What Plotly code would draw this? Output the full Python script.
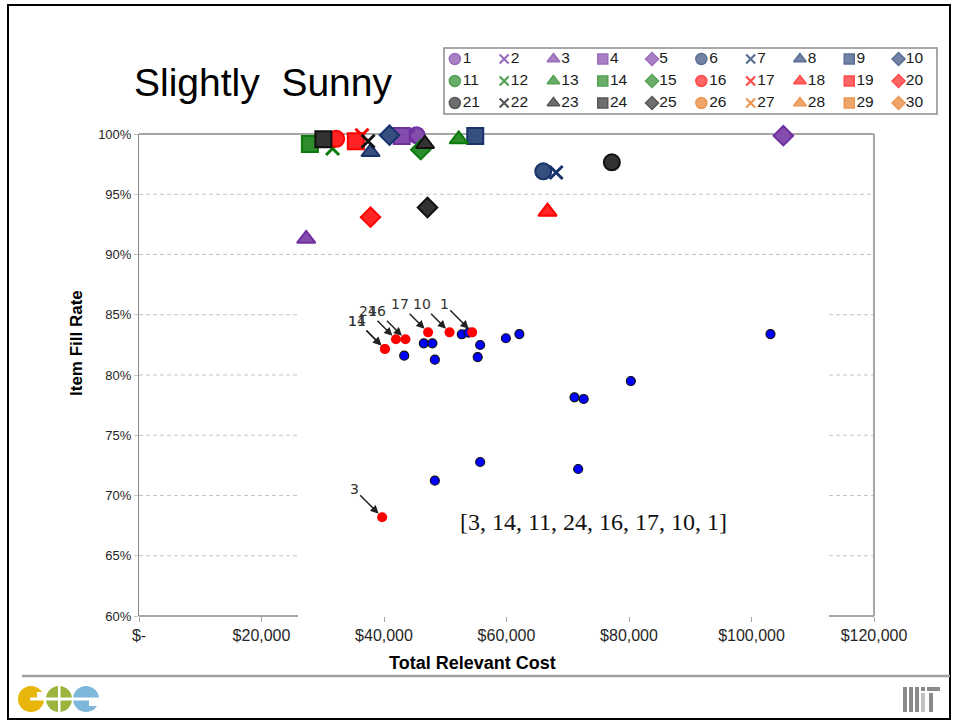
import plotly.graph_objects as go

W, H = 956, 723

# ---------------- data ----------------
series_names = [str(i) for i in range(1, 31)]
scenario_cost = [45300, 43900, 27300, 42900, 105200,
                 66000, 68100, 37800, 54900, 40900,
                 None, 31600, 52200, 27900, 46000,
                 32200, 36400, 66700, 35400, 37800,
                 77200, 37400, 46700, 30100, 47100,
                 None, None, None, None, None]
scenario_fill = [99.9, 99.85, 91.3, 99.83, 99.86,
                 96.9, 96.8, 98.5, 99.83, 99.9,
                 None, 98.8, 99.56, 99.17, 98.7,
                 99.6, 99.9, 93.55, 99.4, 93.1,
                 97.65, 99.4, 99.17, 99.56, 93.9,
                 None, None, None, None, None]

inset_blue_cost = [43300, 46500, 47900, 48300, 52700, 53800, 55700, 55300, 59900,
                   62100, 103100, 80300, 71100, 72600, 48300, 55700, 71700]
inset_blue_fill = [81.6, 82.63, 82.63, 81.27, 83.38, 83.51, 82.49, 81.49, 83.05,
                   83.4, 83.4, 79.5, 78.15, 78.01, 71.23, 72.78, 72.2]
inset_red_labels = ["3", "14", "11", "24", "16", "17", "10", "1"]
inset_red_cost = [39700, 40150, 40150, 41950, 43500, 47200, 50700, 54400]
inset_red_fill = [68.2, 82.16, 82.16, 82.96, 82.96, 83.54, 83.54, 83.54]

x_tick_vals = [0, 20000, 40000, 60000, 80000, 100000, 120000]
x_tick_text = ["$-", "$20,000", "$40,000", "$60,000", "$80,000", "$100,000", "$120,000"]
y_tick_vals = [60, 65, 70, 75, 80, 85, 90, 95, 100]
y_tick_text = ["60%", "65%", "70%", "75%", "80%", "85%", "90%", "95%", "100%"]

group_colors = ["#7030A0", "#17336B", "#0B7B0B", "#FF0000", "#111111", "#E46C0A"]
shape_cycle = ["circle", "x-thin", "triangle-up", "square", "diamond"]
main_sizes = {"circle": 16, "x-thin": 13, "triangle-up": 16, "square": 16, "diamond": 15}
leg_sizes = {"circle": 11, "x-thin": 9, "triangle-up": 11, "square": 10, "diamond": 10}


def blend(hexc, f=0.14):
    r, g, b = int(hexc[1:3], 16), int(hexc[3:5], 16), int(hexc[5:7], 16)
    r, g, b = [int(c + (255 - c) * f) for c in (r, g, b)]
    return "#%02x%02x%02x" % (r, g, b)


def px(x):
    return x / W


def py(y):
    return 1 - y / H


L, R, T, B = 139, 874, 134, 616
Y0, Y1 = 60, 100
INSET_L, INSET_R, INSET_TOP_VAL = 298, 829, 87

fig = go.Figure()

# ---------------- main scenario markers ----------------
for i, name in enumerate(series_names):
    col = group_colors[i // 5]
    sym = shape_cycle[i % 5]
    xs = [scenario_cost[i]] if scenario_cost[i] is not None else []
    ys = [scenario_fill[i]] if scenario_fill[i] is not None else []
    fig.add_trace(go.Scatter(
        x=xs, y=ys, mode="markers", name=name, showlegend=False, cliponaxis=False,
        marker=dict(symbol=sym, size=main_sizes[sym], color=blend(col),
                    line=dict(color=col, width=3 if sym == "x-thin" else 2)),
        hoverinfo="skip"))

# ---------------- inset dots ----------------
fig.add_trace(go.Scatter(
    x=inset_blue_cost, y=inset_blue_fill, mode="markers", showlegend=False,
    marker=dict(symbol="circle", size=9, color="#0000FF", line=dict(color="#111111", width=1.2)),
    hoverinfo="skip"))
fig.add_trace(go.Scatter(
    x=inset_red_cost, y=inset_red_fill, mode="markers", showlegend=False,
    marker=dict(symbol="circle", size=10, color="#FF0000", line=dict(width=0)),
    hoverinfo="skip"))

annotations = []
for lab, xc, yf in zip(inset_red_labels, inset_red_cost, inset_red_fill):
    annotations.append(dict(
        x=xc, y=yf, xref="x", yref="y", text=lab, showarrow=True,
        ax=-28, ay=-28, arrowhead=2, arrowsize=1.1, arrowwidth=1.5, arrowcolor="#222222",
        standoff=5, font=dict(family="DejaVu Sans", size=14, color="#333333")))

annotations.append(dict(
    x=px(593), y=py(537), xref="paper", yref="paper", showarrow=False,
    text="[" + ", ".join(inset_red_labels) + "]",
    font=dict(family="Liberation Serif", size=24, color="#111111")))

# ---------------- legend (manual, 3 rows x 10 cols) ----------------
leg_l, leg_r, leg_t, leg_b = 444, 937, 48, 114
leg_x = [(i % 10) + 0.22 for i in range(30)]
leg_y = [(i // 10) + 0.5 for i in range(30)]
leg_sym = [shape_cycle[i % 5] for i in range(30)]
leg_col = [group_colors[i // 5] for i in range(30)]
fig.add_trace(go.Scatter(
    x=leg_x, y=leg_y, xaxis="x3", yaxis="y3", mode="markers+text",
    text=series_names, textposition="middle right",
    textfont=dict(family="Liberation Sans", size=15.5, color="#1a1a1a"),
    marker=dict(symbol=leg_sym, size=[leg_sizes[s] for s in leg_sym],
                color=[blend(c) for c in leg_col],
                line=dict(color=leg_col, width=[2.2 if s == "x-thin" else 1.5 for s in leg_sym])),
    showlegend=False, cliponaxis=False, hoverinfo="skip"))

# title and axis titles
annotations += [
    dict(x=px(263), y=py(82), xref="paper", yref="paper", showarrow=False,
         xanchor="center", yanchor="middle",
         text="Slightly\u00a0 Sunny", font=dict(family="Liberation Sans", size=39, color="#000000")),
    dict(x=px(472), y=py(663), xref="paper", yref="paper", showarrow=False,
         xanchor="center", yanchor="middle",
         text="<b>Total Relevant Cost</b>",
         font=dict(family="Liberation Sans Narrow, Liberation Sans", size=18, color="#000000")),
    dict(x=px(76), y=py(343), xref="paper", yref="paper", showarrow=False, textangle=-90,
         xanchor="center", yanchor="middle",
         text="<b>Item Fill Rate</b>",
         font=dict(family="Liberation Sans Narrow, Liberation Sans", size=17, color="#000000")),
]


def ypix(v):
    return B - (v - Y0) / (Y1 - Y0) * (B - T)


shapes = []
grid_col = "#C4C4C4"
# dashed gridlines (interrupted where the pasted inset image sits)
for v in y_tick_vals[1:-1]:
    yy = py(ypix(v))
    if v <= INSET_TOP_VAL:
        segs = [(L, INSET_L), (INSET_R, R)]
    else:
        segs = [(L, R)]
    for a, b in segs:
        shapes.append(dict(type="line", xref="paper", yref="paper", layer="below",
                           x0=px(a), x1=px(b), y0=yy, y1=yy,
                           line=dict(color=grid_col, width=1, dash="4px,3px")))
border_col = "#A6A6A6"
shapes.append(dict(type="line", xref="paper", yref="paper", layer="below",
                   x0=px(L), x1=px(R), y0=py(T), y1=py(T), line=dict(color=border_col, width=2)))
shapes.append(dict(type="line", xref="paper", yref="paper", layer="below",
                   x0=px(R), x1=px(R), y0=py(T), y1=py(B), line=dict(color=border_col, width=2)))
shapes.append(dict(type="line", xref="paper", yref="paper", layer="below",
                   x0=px(L), x1=px(INSET_L), y0=py(B), y1=py(B), line=dict(color=border_col, width=2)))
shapes.append(dict(type="line", xref="paper", yref="paper", layer="below",
                   x0=px(INSET_R), x1=px(R), y0=py(B), y1=py(B), line=dict(color=border_col, width=2)))
# legend box
shapes.append(dict(type="rect", xref="paper", yref="paper", layer="below",
                   x0=px(leg_l), x1=px(leg_r), y0=py(leg_b), y1=py(leg_t),
                   line=dict(color="#8C8C8C", width=1.5), fillcolor="rgba(0,0,0,0)"))
# slide frame and footer line
shapes.append(dict(type="rect", xref="paper", yref="paper", layer="above",
                   x0=px(8), x1=px(950), y0=py(719), y1=py(5),
                   line=dict(color="#000000", width=2), fillcolor="rgba(0,0,0,0)"))
shapes.append(dict(type="line", xref="paper", yref="paper", layer="above",
                   x0=px(22), x1=px(950), y0=py(676), y1=py(676),
                   line=dict(color="#A0A0A0", width=2.5)))
# CoC logo (approximation)
for cx, colr in [(31, "#E8B50B"), (59, "#9BB53C"), (86, "#7DB8DB")]:
    shapes.append(dict(type="circle", xref="paper", yref="paper", layer="above",
                       x0=px(cx - 13), x1=px(cx + 13), y0=py(712), y1=py(686),
                       fillcolor=colr, line=dict(width=0)))
for x0, x1, y0, y1 in [(30, 100, 700.5, 697.5), (58, 60.5, 712, 686),
                       (37, 45, 699, 692), (89, 100, 706, 699)]:
    shapes.append(dict(type="rect", xref="paper", yref="paper", layer="above",
                       x0=px(x0), x1=px(x1), y0=py(y0), y1=py(y1),
                       fillcolor="white", line=dict(width=0)))
# MIT logo (approximation)
for x0, x1, y0, y1, c in [(903, 907, 712, 687, "#8A8A8A"), (909, 913, 712, 687, "#8A8A8A"),
                          (915, 919, 712, 687, "#8A8A8A"), (921, 925, 712, 693, "#C0C0C0"),
                          (921, 925, 691, 687, "#8A8A8A"), (927, 940, 691, 687, "#8A8A8A"),
                          (929, 933, 712, 693, "#8A8A8A")]:
    shapes.append(dict(type="rect", xref="paper", yref="paper", layer="above",
                       x0=px(x0), x1=px(x1), y0=py(y0), y1=py(y1),
                       fillcolor=c, line=dict(width=0)))

fig.update_layout(
    width=W, height=H, template="none",
    margin=dict(l=0, r=0, t=0, b=0, pad=0),
    paper_bgcolor="white", plot_bgcolor="rgba(0,0,0,0)",
    showlegend=False,
    xaxis=dict(domain=[px(L), px(R)], range=[0, 120000], showgrid=False, zeroline=False,
               showline=False, tickvals=x_tick_vals, ticktext=x_tick_text,
               ticks="outside", ticklen=5, tickcolor="#A6A6A6", tickwidth=1,
               tickfont=dict(family="Liberation Sans Narrow, Liberation Sans", size=16, color="#262626")),
    yaxis=dict(domain=[py(B), py(T)], range=[Y0, Y1], showgrid=False, zeroline=False,
               showline=True, linecolor="#868686", linewidth=1,
               tickvals=y_tick_vals, ticktext=y_tick_text,
               ticks="outside", ticklen=4, tickcolor="#C8C8C8",
               tickfont=dict(family="Liberation Sans", size=13, color="#262626")),
    xaxis3=dict(domain=[px(leg_l), px(leg_r)], range=[0, 10], visible=False, fixedrange=True),
    yaxis3=dict(domain=[py(leg_b), py(leg_t)], range=[3, 0], visible=False, fixedrange=True),
    annotations=annotations, shapes=shapes,
)

fig.write_html("out.html")
